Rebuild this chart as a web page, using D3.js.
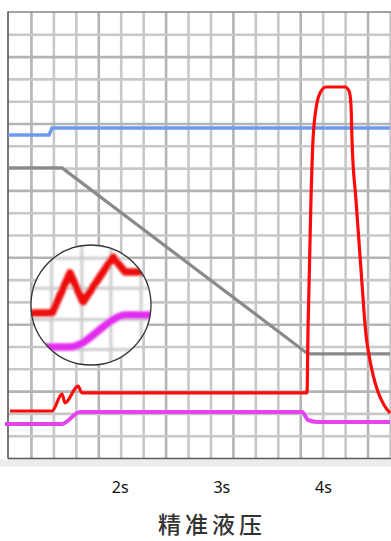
<!DOCTYPE html>
<html>
<head>
<meta charset="utf-8">
<script src="https://cdn.jsdelivr.net/npm/d3@7"></script>
<style>
  html, body { margin: 0; padding: 0; background: #fff; }
  svg { display: block; }
</style>
</head>
<body>
<svg id="chart" width="391" height="541"></svg>
<script>
// ---------- data ----------
const tickValues = [2, 3, 4];
const tickLabels = ["2s", "3s", "4s"];
const title = "精准液压";

const blueT = [0.9, 1.304, 1.333, 4.66];
const blueV = [14.51, 14.51, 14.82, 14.82];

const grayT = [0.9, 1.432, 3.853, 4.66];
const grayV = [13.03, 13.03, 4.69, 4.69];

const redT = [0.92, 1.333, 1.432, 1.461, 1.589, 1.628, 3.843, 3.853, 3.882, 3.902, 3.941, 3.971, 4.030, 4.217, 4.257, 4.276,
              4.286, 4.325, 4.375, 4.424, 4.453, 4.493, 4.542, 4.601, 4.66];
const redV = [2.13, 2.13, 2.89, 2.49, 3.25, 2.94, 2.94, 5.76, 11.59, 14.28, 15.94, 16.39, 16.66, 16.66, 16.48, 15.85,
              14.28, 11.59, 8.45, 5.54, 4.64, 3.75, 2.98, 2.40, 2.04];

const magT = [0.87, 1.432, 1.609, 3.794, 3.853, 3.941, 4.66];
const magV = [1.55, 1.55, 2.09, 2.09, 1.73, 1.64, 1.64];

// magnified inset (local units 0..100)
const insetRedX = [0, 17.4, 32.2, 43, 67.8, 77.7, 100];
const insetRedV = [43.3, 43.3, 76.7, 52.5, 90, 77.5, 77.5];
const insetMagX = [0, 32, 79, 100];
const insetMagV = [15, 15, 41.7, 41.7];
const insetGridX = [17, 42, 66, 91];
const insetGridY = [13, 38, 64, 89];

// ---------- layout ----------
const svg = d3.select("#chart");
const pLeft = 8, pRight = 390.5, pTop = 12.5, pBottom = 458.5;

const x = d3.scaleLinear().domain([0.9, 4.66]).range([8, 390]);
const y = d3.scaleLinear().domain([0, 20]).range([pBottom, pTop]);
const gridX = d3.scaleLinear().domain([0, 17]).range([9, 390.5]);

// grid
const grid = svg.append("g");
grid.selectAll("line.v").data(d3.range(1, 18)).join("line")
  .attr("x1", d => gridX(d)).attr("x2", d => gridX(d))
  .attr("y1", pTop).attr("y2", pBottom)
  .attr("stroke", (d) => d % 3 === 1 ? "#b4b4b4" : "#c8c8c8")
  .attr("stroke-width", 2.6);
grid.selectAll("line.h").data(d3.range(1, 20)).join("line")
  .attr("y1", d => y(d)).attr("y2", d => y(d))
  .attr("x1", pLeft).attr("x2", pRight)
  .attr("stroke", (d) => d % 3 === 0 ? "#b4b4b4" : "#c8c8c8")
  .attr("stroke-width", 2.6);

// frame
svg.append("rect").attr("x", 0).attr("y", pBottom + 1).attr("width", 391).attr("height", 7).attr("fill", "#ececec");
svg.append("line").attr("x1", pLeft).attr("x2", 391).attr("y1", pTop - 0.5).attr("y2", pTop - 0.5)
  .attr("stroke", "#4a4a4a").attr("stroke-width", 1.2);
svg.append("line").attr("x1", pLeft).attr("x2", 391).attr("y1", pBottom).attr("y2", pBottom)
  .attr("stroke", "#5a5a5a").attr("stroke-width", 1.5);
svg.append("line").attr("x1", pLeft).attr("x2", pLeft).attr("y1", pTop - 1).attr("y2", pBottom)
  .attr("stroke", "#555").attr("stroke-width", 1.6);

// series
const zipper = (ts, vs) => ts.map((t, i) => [t, vs[i]]);
const linLine = d3.line().x(d => x(d[0])).y(d => y(d[1]));
const smLine = d3.line().x(d => x(d[0])).y(d => y(d[1])).curve(d3.curveMonotoneX);

svg.append("path").datum(zipper(blueT, blueV)).attr("d", linLine)
  .attr("fill", "none").attr("stroke", "#6d9aee").attr("stroke-width", 3.5);
svg.append("path").datum(zipper(grayT, grayV)).attr("d", linLine)
  .attr("fill", "none").attr("stroke", "#8a8a8a").attr("stroke-width", 3.2);
svg.append("path").datum(zipper(magT, magV)).attr("d", smLine)
  .attr("fill", "none").attr("stroke", "#e443ee").attr("stroke-width", 4);
svg.append("path").datum(zipper(redT, redV)).attr("d", smLine)
  .attr("fill", "none").attr("stroke", "#ff0a0a").attr("stroke-width", 3.2)
  .attr("stroke-linejoin", "round");

// inset
const cx = 91, cy = 305, r = 60;
const ix = d3.scaleLinear().domain([0, 100]).range([31, 152]);
const iy = d3.scaleLinear().domain([0, 100]).range([365, 245]);
const defs = svg.append("defs");
defs.append("clipPath").attr("id", "insetClip").append("circle").attr("cx", cx).attr("cy", cy).attr("r", r);
defs.append("filter").attr("id", "soft").append("feGaussianBlur").attr("stdDeviation", 0.9);

const inset = svg.append("g").attr("clip-path", "url(#insetClip)");
inset.append("circle").attr("cx", cx).attr("cy", cy).attr("r", r).attr("fill", "#fff");
const ig = inset.append("g").attr("filter", "url(#soft)");
ig.selectAll("line.iv").data(insetGridX).join("line")
  .attr("x1", d => ix(d)).attr("x2", d => ix(d)).attr("y1", cy - r).attr("y2", cy + r)
  .attr("stroke", "#cdcdcd").attr("stroke-width", 3);
ig.selectAll("line.ih").data(insetGridY).join("line")
  .attr("y1", d => iy(d)).attr("y2", d => iy(d)).attr("x1", cx - r).attr("x2", cx + r)
  .attr("stroke", "#cdcdcd").attr("stroke-width", 3);
const insetSmooth = d3.line().x(d => ix(d[0])).y(d => iy(d[1])).curve(d3.curveMonotoneX);
const insetLin = d3.line().x(d => ix(d[0])).y(d => iy(d[1]));
ig.append("path").datum(zipper(insetMagX, insetMagV)).attr("d", insetSmooth)
  .attr("fill", "none").attr("stroke", "#e22cf0").attr("stroke-width", 7.5);
ig.append("path").datum(zipper(insetRedX, insetRedV)).attr("d", insetLin)
  .attr("fill", "none").attr("stroke", "#ee0c0c").attr("stroke-width", 7.5).attr("stroke-linejoin", "round");
svg.append("circle").attr("cx", cx).attr("cy", cy).attr("r", r)
  .attr("fill", "none").attr("stroke", "#333").attr("stroke-width", 1.3);

// axis
const axis = d3.axisBottom(x).tickValues(tickValues)
  .tickFormat((d, i) => tickLabels[i]).tickSize(0).tickPadding(23);
const ax = svg.append("g").attr("transform", `translate(0,${pBottom})`).call(axis);
ax.select(".domain").remove();
ax.selectAll("text").attr("font-family", "'Noto Sans', 'Open Sans', sans-serif")
  .attr("font-size", 16).attr("fill", "#111");

// title
svg.append("text").attr("x", 212).attr("y", 533).attr("text-anchor", "middle")
  .attr("font-family", "'Noto Sans CJK SC', sans-serif").attr("font-size", 23)
  .attr("font-weight", 500)
  .attr("letter-spacing", 4).attr("fill", "#333").text(title);
</script>
</body>
</html>
